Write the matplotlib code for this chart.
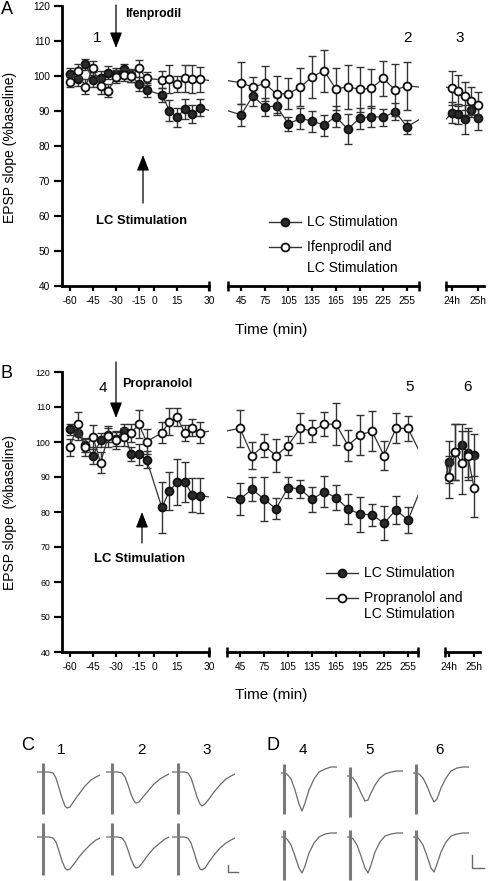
import matplotlib
matplotlib.use('Agg')
import matplotlib.pyplot as plt
from matplotlib.lines import Line2D

plt.rcParams['font.family'] = ['Liberation Sans', 'DejaVu Sans']

# ------------------------------------------------------------------ data
T_PRE = [-60, -55, -50, -45, -40, -35, -30, -25, -20, -15, -10, 0, 5, 10, 15, 20, 25]
T_MID = [45, 60, 75, 90, 105, 120, 135, 150, 165, 180, 195, 210, 225, 240, 255]
T_LATE = [1440, 1455, 1470, 1485, 1500]

PRE_TICK_LABELS = ['-60', '-45', '-30', '-15', '0', '15', '30']
MID_TICK_LABELS = ['45', '75', '105', '135', '165', '195', '225', '255']
MID_TICKS = [45, 75, 105, 135, 165, 195, 225, 255]
LATE_TICK_LABELS = ['24h', '25h']
LATE_TICKS = [1440, 1500]
Y_TICKS = [40, 50, 60, 70, 80, 90, 100, 110, 120]

# Panel A : LC stimulation (filled) / Ifenprodil + LC stimulation (open)
A_lc_pre = [100.6, 99.1, 103.4, 99.0, 99.5, 101.0, 100.5, 101.9, 100.2, 97.7, 96.0,
            94.6, 90.1, 88.2, 90.6, 89.1, 91.0]
A_lc_pre_err = [1.8, 2.0, 1.6, 2.2, 1.8, 1.8, 1.8, 1.5, 1.8, 2.0, 2.0,
                2.0, 3.0, 2.8, 2.8, 2.5, 2.5]
A_lc_mid = [88.9, 94.3, 91.2, 91.4, 86.3, 87.9, 87.1, 86.0, 88.4, 84.8, 87.9, 88.4, 88.2, 89.8, 85.5]
A_lc_mid_err = [3.1, 3.0, 2.5, 2.5, 2.0, 3.0, 3.0, 3.0, 3.0, 4.3, 3.0, 3.0, 2.5, 2.5, 2.0]
A_lc_late = [89.5, 89.1, 87.6, 90.3, 87.9]
A_lc_late_err = [3.0, 2.8, 4.2, 2.0, 3.2]

A_ifen_pre = [98.4, 101.5, 97.0, 102.2, 97.2, 95.8, 99.8, 100.3, 100.0, 102.2, 99.3,
              98.9, 99.1, 97.7, 99.3, 99.1, 99.1]
A_ifen_pre_err = [1.5, 1.8, 2.2, 2.0, 2.2, 1.8, 1.8, 1.8, 1.8, 2.5, 1.8,
                  2.4, 4.0, 2.4, 3.8, 4.0, 3.6]
A_ifen_mid = [98.1, 96.8, 97.9, 94.8, 95.0, 96.8, 99.8, 101.5, 96.3, 96.9, 96.2, 96.5, 99.3, 96.0, 97.2]
A_ifen_mid_err = [6.0, 2.9, 5.0, 5.3, 4.3, 5.5, 6.0, 6.0, 5.9, 6.3, 6.5, 5.5, 5.0, 7.3, 6.9]
A_ifen_late = [96.5, 95.8, 94.3, 92.9, 91.7]
A_ifen_late_err = [4.8, 4.5, 4.1, 4.0, 3.8]

# Panel B : LC stimulation (filled) / Propranolol + LC stimulation (open)
B_lc_pre = [103.6, 102.5, 99.2, 96.1, 100.5, 102.0, 101.0, 103.2, 96.5, 96.5, 95.0,
            81.3, 86.0, 88.5, 88.5, 84.9, 84.7]
B_lc_pre_err = [1.5, 2.0, 2.0, 2.5, 2.0, 2.0, 2.0, 2.0, 2.0, 3.0, 2.5,
                7.2, 5.5, 6.6, 5.7, 4.8, 5.0]
B_lc_mid = [83.7, 86.5, 83.7, 80.9, 87.0, 86.6, 83.6, 85.8, 84.1, 80.9, 79.4, 79.2, 76.8, 80.6, 77.7]
B_lc_mid_err = [4.5, 3.4, 6.2, 3.0, 3.1, 2.6, 3.6, 4.5, 3.6, 4.2, 5.0, 3.1, 4.8, 4.0, 3.8]
B_lc_late = [94.4, 97.1, 99.1, 96.9, 96.3]
B_lc_late_err = [6.0, 8.0, 6.0, 7.0, 6.0]

B_prop_pre = [98.5, 105.1, 98.5, 101.4, 94.1, 101.6, 100.6, 101.5, 102.6, 105.1, 100.1,
              102.6, 105.8, 107.1, 102.6, 104.1, 102.6]
B_prop_pre_err = [2.5, 3.5, 2.5, 3.5, 3.0, 3.0, 2.5, 2.5, 2.5, 4.0, 3.5,
                  3.0, 3.8, 2.6, 2.4, 2.4, 3.0]
B_prop_mid = [103.9, 96.1, 99.0, 96.1, 99.0, 103.9, 103.1, 105.1, 105.1, 99.0, 102.0, 103.1, 96.1, 103.9, 103.9]
B_prop_mid_err = [5.2, 3.8, 3.4, 4.8, 2.8, 4.3, 3.2, 3.4, 6.0, 4.3, 5.7, 5.8, 4.2, 4.3, 3.5]
B_prop_late = [90.1, 97.1, 94.1, 96.1, 87.0]
B_prop_late_err = [6.0, 8.0, 9.0, 7.0, 8.5]

# EPSP traces (time in ms from trace start, amplitude re baseline)
C_T = [0, 6, 12, 16, 19, 22, 25, 28, 30, 33, 37, 42, 48, 54, 59, 63]
C_TRACES = {
    '1': ([0, 0, 0, -1, -6, -16, -26, -34, -36, -35, -29, -22, -14, -8, -5, -3],
          [0, 0, 0, -1, -5, -14, -24, -31, -33, -32, -27, -20, -13, -7, -3, -1]),
    '2': ([0, 0, 0, -1, -5, -13, -22, -29, -31, -30, -25, -19, -12, -7, -4, -2],
          [0, 0, 0, -1, -5, -13, -22, -29, -31, -30, -25, -18, -11, -6, -2, 0]),
    '3': ([0, 0, 0, -1, -6, -15, -25, -32, -34, -32, -27, -20, -13, -7, -4, -2],
          [0, 0, 0, -1, -6, -15, -25, -32, -33, -31, -25, -18, -11, -6, -3, -1]),
}
C_ARTIFACT = [(5.5, 9, -41.5), (5.5, 14, -38)]   # (time, top, bottom) per row

D_T = [0, 3, 6, 10, 14, 18, 21, 24, 28, 33, 38, 44, 50, 56]
D_TRACES = {
    '4': ([0, 0, -1, -6, -17, -31, -38, -30, -17, -6, 1, 4, 6, 6],
          [0, 0, -2, -8, -19, -31, -36, -29, -16, -6, 0, 3, 4, 4]),
    '5': ([0, 0, -2, -8, -17, -25, -24, -17, -9, -2, 2, 4, 5, 5],
          [0, 0, -2, -8, -19, -31, -36, -28, -15, -5, 1, 3, 4, 4]),
    '6': ([0, 0, -1, -5, -13, -23, -29, -26, -15, -5, 2, 5, 6, 6],
          [0, 0, -2, -8, -19, -31, -35, -27, -15, -5, 1, 3, 4, 4]),
}
D_ARTIFACT = [(2.5, 9, -40.5), (2.5, 7, -43)]

# ------------------------------------------------------------------ layout
W, H = 488, 881
fig = plt.figure(figsize=(W / 100, H / 100), dpi=100)


def fx(px):
    return px / W


def fy(py):
    return 1 - py / H


def rect(x0, x1, y0, y1):
    return [fx(x0), fy(y1), (x1 - x0) / W, (y1 - y0) / H]


PRE_TICK_POS = [-60, -45, -30, -15, -5, 10, 30.8]
DARK = '#2a2a2a'
LINEC = '#333333'


def make_panel(ypx, segs, ytick_size, series, ylabel, ylabel_y):
    axes = []
    for i, (px, xlim) in enumerate(segs):
        ax = fig.add_axes(rect(px[0], px[1], ypx[0], ypx[1]))
        ax.set_xlim(*xlim)
        ax.set_ylim(40, 120)
        ax.patch.set_alpha(0)
        for s in ['top', 'right']:
            ax.spines[s].set_visible(False)
        ax.spines['bottom'].set_linewidth(2.0)
        ax.spines['left'].set_linewidth(2.0)
        ax.tick_params(axis='x', direction='out', length=3.8, width=1.6,
                       labelsize=7.3, pad=3.5)
        if i == 0:
            ax.set_yticks(Y_TICKS)
            ax.tick_params(axis='y', direction='out', length=6, width=1.6,
                           labelsize=ytick_size, pad=2.5)
            ax.set_xticks(PRE_TICK_POS)
            ax.set_xticklabels(PRE_TICK_LABELS)
            ends = [1]
        else:
            ax.spines['left'].set_visible(False)
            ax.set_yticks([])
            if i == 1:
                ax.set_xticks(MID_TICKS)
                ax.set_xticklabels(MID_TICK_LABELS)
                ends = [0, 1]
            else:
                ax.set_xticks(LATE_TICKS)
                ax.set_xticklabels(LATE_TICK_LABELS)
                ends = [0]
        for e in ends:
            ax.plot([e], [0], marker='|', ms=7.5, mew=1.8, color='k',
                    transform=ax.transAxes, clip_on=False, zorder=6)
        axes.append(ax)

    times = [T_PRE, T_MID, T_LATE]
    gaps = [15, 30, 30]  # layout: where cross-break neighbours are placed
    for vals, errs, filled in series:
        z = 3 if filled else 4
        for i, ax in enumerate(axes):
            t, y, e = list(times[i]), list(vals[i]), errs[i]
            lx, ly = list(t), list(y)
            if i > 0:
                lx = [t[0] - gaps[i]] + lx
                ly = [vals[i - 1][-1]] + ly
            if i < 2:
                lx = lx + [t[-1] + gaps[i]]
                ly = ly + [vals[i + 1][0]]
            ax.plot(lx, ly, '-', color=LINEC, lw=0.9, zorder=z)
            ax.errorbar(t, y, yerr=e, fmt='none', ecolor=LINEC, elinewidth=1.0,
                        capsize=2.6, capthick=1.0, zorder=z)
            ax.plot(t, y, 'o', ms=5.7, mfc=DARK if filled else 'white',
                    mec='#111111', mew=1.3, zorder=z + 0.5, clip_on=False)
    fig.text(fx(10), fy(ylabel_y), ylabel, rotation=90, ha='center',
             va='center', fontsize=10)
    return axes


# Panel A
axA = make_panel((6, 286),
                 [((62, 209), (-65.2, 30.8)), ((228, 419), (28.5, 270.2)),
                  ((446, 484), (1426.2, 1514.0))],
                 7.3,
                 [((A_lc_pre, A_lc_mid, A_lc_late),
                   (A_lc_pre_err, A_lc_mid_err, A_lc_late_err), True),
                  ((A_ifen_pre, A_ifen_mid, A_ifen_late),
                   (A_ifen_pre_err, A_ifen_mid_err, A_ifen_late_err), False)],
                 'EPSP slope (%baseline)', 147)

# Panel B
axB = make_panel((372, 652),
                 [((62, 209), (-65.2, 30.8)), ((227, 418), (28.7, 267.5)),
                  ((445, 480), (1430.4, 1514.4))],
                 6.3,
                 [((B_lc_pre, B_lc_mid, B_lc_late),
                   (B_lc_pre_err, B_lc_mid_err, B_lc_late_err), True),
                  ((B_prop_pre, B_prop_mid, B_prop_late),
                   (B_prop_pre_err, B_prop_mid_err, B_prop_late_err), False)],
                 'EPSP slope  (%baseline)', 512)

# axis titles
fig.text(fx(271), fy(330), 'Time (min)', ha='center', va='center', fontsize=11)
fig.text(fx(271), fy(695), 'Time (min)', ha='center', va='center', fontsize=11)

# panel letters
fig.text(fx(1), fy(10), 'A', ha='left', va='center', fontsize=13)
fig.text(fx(0), fy(373), 'B', ha='left', va='center', fontsize=13)
fig.text(fx(21), fy(746), 'C', ha='left', va='center', fontsize=13)
fig.text(fx(267), fy(746), 'D', ha='left', va='center', fontsize=13)

# numbers
for lab, x, y in [('1', 97, 38), ('2', 407, 38), ('3', 460, 38),
                  ('4', 103, 388), ('5', 410, 387), ('6', 467, 387),
                  ('1', 61, 750), ('2', 142, 750), ('3', 207, 750),
                  ('4', 303, 750), ('5', 370, 750), ('6', 439, 750)]:
    fig.text(fx(x), fy(y), lab, ha='center', va='center', fontsize=11)


def arrow(x, y_from, y_to):
    fig.add_artist(matplotlib.patches.FancyArrowPatch(
        (fx(x), fy(y_from)), (fx(x), fy(y_to)), transform=fig.transFigure,
        arrowstyle='-|>,head_length=0.95,head_width=0.37', mutation_scale=10,
        lw=0.9, color='k', shrinkA=0, shrinkB=0))


arrow(116, 5, 48)
arrow(143, 203, 155)
arrow(116, 362, 418)
arrow(142, 543, 512)

fig.text(fx(125), fy(14), 'Ifenprodil', ha='left', va='center', fontsize=8.8, weight='bold')
fig.text(fx(142), fy(221), 'LC Stimulation', ha='center', va='center', fontsize=9.4, weight='bold')
fig.text(fx(122), fy(384), 'Propranolol', ha='left', va='center', fontsize=9.0, weight='bold')
fig.text(fx(140), fy(559), 'LC Stimulation', ha='center', va='center', fontsize=9.4, weight='bold')


# legends
def legend_entry(xc, y, filled, text_lines, tx, dy):
    fig.add_artist(Line2D([fx(xc - 16), fx(xc), fx(xc + 16)], [fy(y)] * 3,
                          transform=fig.transFigure, color=LINEC, lw=1.0,
                          marker='o', markevery=[1], ms=5.7,
                          mfc=DARK if filled else 'white', mec='#111111', mew=1.3))
    for k, tl in enumerate(text_lines):
        fig.text(fx(tx), fy(y + k * dy), tl, ha='left', va='center', fontsize=10)


legend_entry(285, 222, True, ['LC Stimulation'], 307, 0)
legend_entry(285, 247, False, ['Ifenprodil and', 'LC Stimulation'], 307, 20.5)
legend_entry(342, 573, True, ['LC Stimulation'], 364, 0)
legend_entry(342, 598, False, ['Propranolol and', 'LC Stimulation'], 364, 16.5)


# traces
def draw_traces(T, traces, artifacts, lefts, width, baselines):
    for j, key in enumerate(traces):
        for row in range(2):
            base = baselines[row][j]
            ax = fig.add_axes(rect(lefts[j], lefts[j] + width, base - 15, base + 46))
            ax.axis('off')
            ax.set_xlim(0, width)
            ax.set_ylim(-46, 15)
            ax.plot(T, traces[key][row], color='#6a6a6a', lw=0.9)
            at, top, bot = artifacts[row]
            ax.plot([at, at], [top, bot], color='#7a7a7a', lw=2.2,
                    solid_capstyle='butt')


draw_traces(C_T, C_TRACES, C_ARTIFACT, [37, 106, 172], 63,
            [[772, 772, 772], [837, 837, 837]])
draw_traces(D_T, D_TRACES, D_ARTIFACT, [281, 347, 413], 56,
            [[773, 776, 773], [837, 837, 837]])

# scale bars
for xs, ys in [([228, 228, 238], [865, 872, 872]), ([472, 472, 484], [855, 868, 868])]:
    fig.add_artist(Line2D([fx(v) for v in xs], [fy(v) for v in ys],
                          transform=fig.transFigure, color='#6a6a6a', lw=1.0))

fig.savefig('out.png', dpi=100)
